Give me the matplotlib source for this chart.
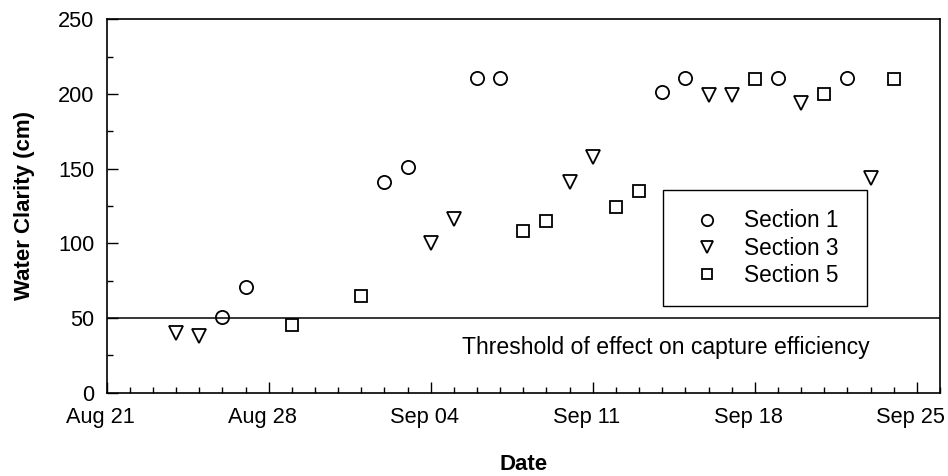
import matplotlib
matplotlib.use('Agg')
import matplotlib.pyplot as plt
import matplotlib.dates as mdates
import matplotlib.transforms as mtransforms
import numpy as np

plt.rcParams['font.family'] = ['Liberation Sans', 'DejaVu Sans']

# water clarity readings per section (cm)
sec1_dates = ['2003-08-26', '2003-08-27', '2003-09-02', '2003-09-03', '2003-09-06',
              '2003-09-07', '2003-09-14', '2003-09-15', '2003-09-19', '2003-09-22']
sec1_vals = [51, 71, 141, 151, 211, 211, 201, 211, 211, 211]

sec3_dates = ['2003-08-24', '2003-08-25', '2003-09-04', '2003-09-05', '2003-09-10',
              '2003-09-11', '2003-09-16', '2003-09-17', '2003-09-20', '2003-09-23']
sec3_vals = [40, 38, 100, 116, 141, 158, 199, 199, 194, 144]

sec5_dates = ['2003-08-29', '2003-09-01', '2003-09-08', '2003-09-09', '2003-09-12',
              '2003-09-13', '2003-09-18', '2003-09-21', '2003-09-24']
sec5_vals = [45, 65, 108, 115, 124, 135, 210, 200, 210]

threshold = 50

fs = 15.7

fig = plt.figure(figsize=(9.48, 4.76), dpi=100)
ax = fig.add_axes([0.1125, 0.175, 0.8791, 0.7845])

mk = dict(linestyle='none', markerfacecolor='none', markeredgecolor='black',
          markeredgewidth=1.3)
ax.plot(np.array(sec1_dates, dtype='datetime64[D]'), sec1_vals, marker='o',
        markersize=9.5, label='Section 1', **mk)
ax.plot(np.array(sec3_dates, dtype='datetime64[D]'), sec3_vals, marker='v',
        markersize=10, label='Section 3', **mk)
ax.plot(np.array(sec5_dates, dtype='datetime64[D]'), sec5_vals, marker='s',
        markersize=9, label='Section 5', **mk)

ax.axhline(threshold, color='black', linewidth=1.1)
ax.text(0.671, 0.12, 'Threshold of effect on capture efficiency', transform=ax.transAxes,
        ha='center', va='center', fontsize=16.6)

ax.set_xlim(np.datetime64('2003-08-21'), np.datetime64('2003-09-26'))
ax.set_ylim(0, 250)

# weekly major ticks (Thursdays), daily minor ticks
ax.xaxis.set_major_locator(mdates.WeekdayLocator(byweekday=mdates.TH))
ax.xaxis.set_major_formatter(mdates.DateFormatter('%b %d'))
ax.xaxis.set_minor_locator(mdates.DayLocator())
ax.set_yticks(np.arange(0, 251, 50))
ax.set_yticks(np.arange(25, 250, 50), minor=True)

ax.tick_params(which='both', direction='in', width=1, labelsize=fs)
ax.tick_params(which='major', length=8)
ax.tick_params(which='minor', length=4.5)
ax.tick_params(axis='x', which='major', pad=10.5)
ax.tick_params(axis='y', which='major', pad=9)

# date labels sit a little left of their ticks
shift = mtransforms.ScaledTranslation(-6 / 100, 0, fig.dpi_scale_trans)
for lbl in ax.get_xticklabels():
    lbl.set_transform(lbl.get_transform() + shift)

for s in ax.spines.values():
    s.set_linewidth(1.2)

ax.set_xlabel('Date', fontsize=16, fontweight='bold', va='center')
ax.xaxis.set_label_coords(0.5, -0.191)
ax.set_ylabel('Water Clarity (cm)', fontsize=16, fontweight='bold', va='center')
ax.yaxis.set_label_coords(-0.098, 0.5)

leg = ax.legend(loc='upper left',
                bbox_to_anchor=(662.7 / 948, 1 - 305 / 476, 204 / 948, 115 / 476),
                bbox_transform=fig.transFigure, mode='expand', fontsize=16.3,
                markerscale=0.86, frameon=True, fancybox=False, framealpha=1,
                edgecolor='black', borderpad=0.86, handlelength=2.17,
                handletextpad=0.58, labelspacing=0.18, borderaxespad=0)
leg.get_frame().set_linewidth(1.0)

fig.savefig('out.png', dpi=100)
